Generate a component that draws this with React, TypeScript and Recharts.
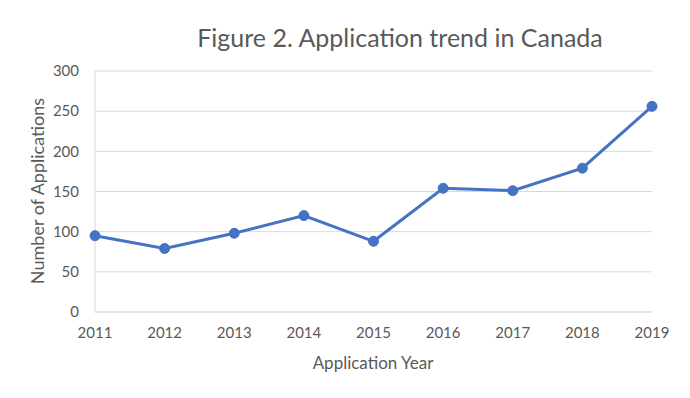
import { LineChart, Line, XAxis, YAxis, CartesianGrid } from "recharts";

const years = ["2011", "2012", "2013", "2014", "2015", "2016", "2017", "2018", "2019"];
const applications = [95, 79, 98, 120, 88, 154, 151, 179, 256];
const yTicks = [0, 50, 100, 150, 200, 250, 300];

const data = years.map((year, i) => ({ year, applications: applications[i] }));

const font = "Lato, 'Open Sans', sans-serif";
const grey = "#595959";

export default function App() {
  return (
    <div
      style={{
        position: "absolute",
        left: 0,
        top: 0,
        width: 690,
        height: 398,
        background: "#fff",
        fontFamily: font,
      }}
    >
      <div
        style={{
          position: "absolute",
          left: 0,
          width: 800,
          top: 22,
          textAlign: "center",
          fontSize: 25,
          color: grey,
        }}
      >
        Figure 2. Application trend in Canada
      </div>

      <LineChart
        width={690}
        height={398}
        data={data}
        margin={{ top: 71, right: 38, bottom: 56, left: 35 }}
      >
        <CartesianGrid vertical={false} stroke="#d9d9d9" />
        <XAxis
          dataKey="year"
          height={30}
          tickLine={false}
          axisLine={{ stroke: "#d9d9d9" }}
          tickMargin={9}
          tick={{ fill: grey, fontSize: 15, fontFamily: font }}
        />
        <YAxis
          width={60}
          domain={[0, 300]}
          ticks={yTicks}
          tickLine={false}
          axisLine={{ stroke: "#d9d9d9" }}
          tickMargin={10}
          tick={{ fill: grey, fontSize: 15, fontFamily: font }}
        />
        <Line
          type="linear"
          dataKey="applications"
          stroke="#4472c4"
          strokeWidth={3}
          dot={{ r: 5, fill: "#4472c4", stroke: "#4472c4", strokeWidth: 1 }}
          isAnimationActive={false}
        />
      </LineChart>

      <div
        style={{
          position: "absolute",
          left: 273,
          width: 200,
          top: 352,
          textAlign: "center",
          fontSize: 17,
          color: grey,
        }}
      >
        Application Year
      </div>
      <div
        style={{
          position: "absolute",
          left: 37 - 110,
          top: 191 - 11,
          width: 220,
          height: 22,
          lineHeight: "22px",
          textAlign: "center",
          fontSize: 18,
          color: grey,
          transform: "rotate(-90deg)",
        }}
      >
        Number of Applications
      </div>
    </div>
  );
}
